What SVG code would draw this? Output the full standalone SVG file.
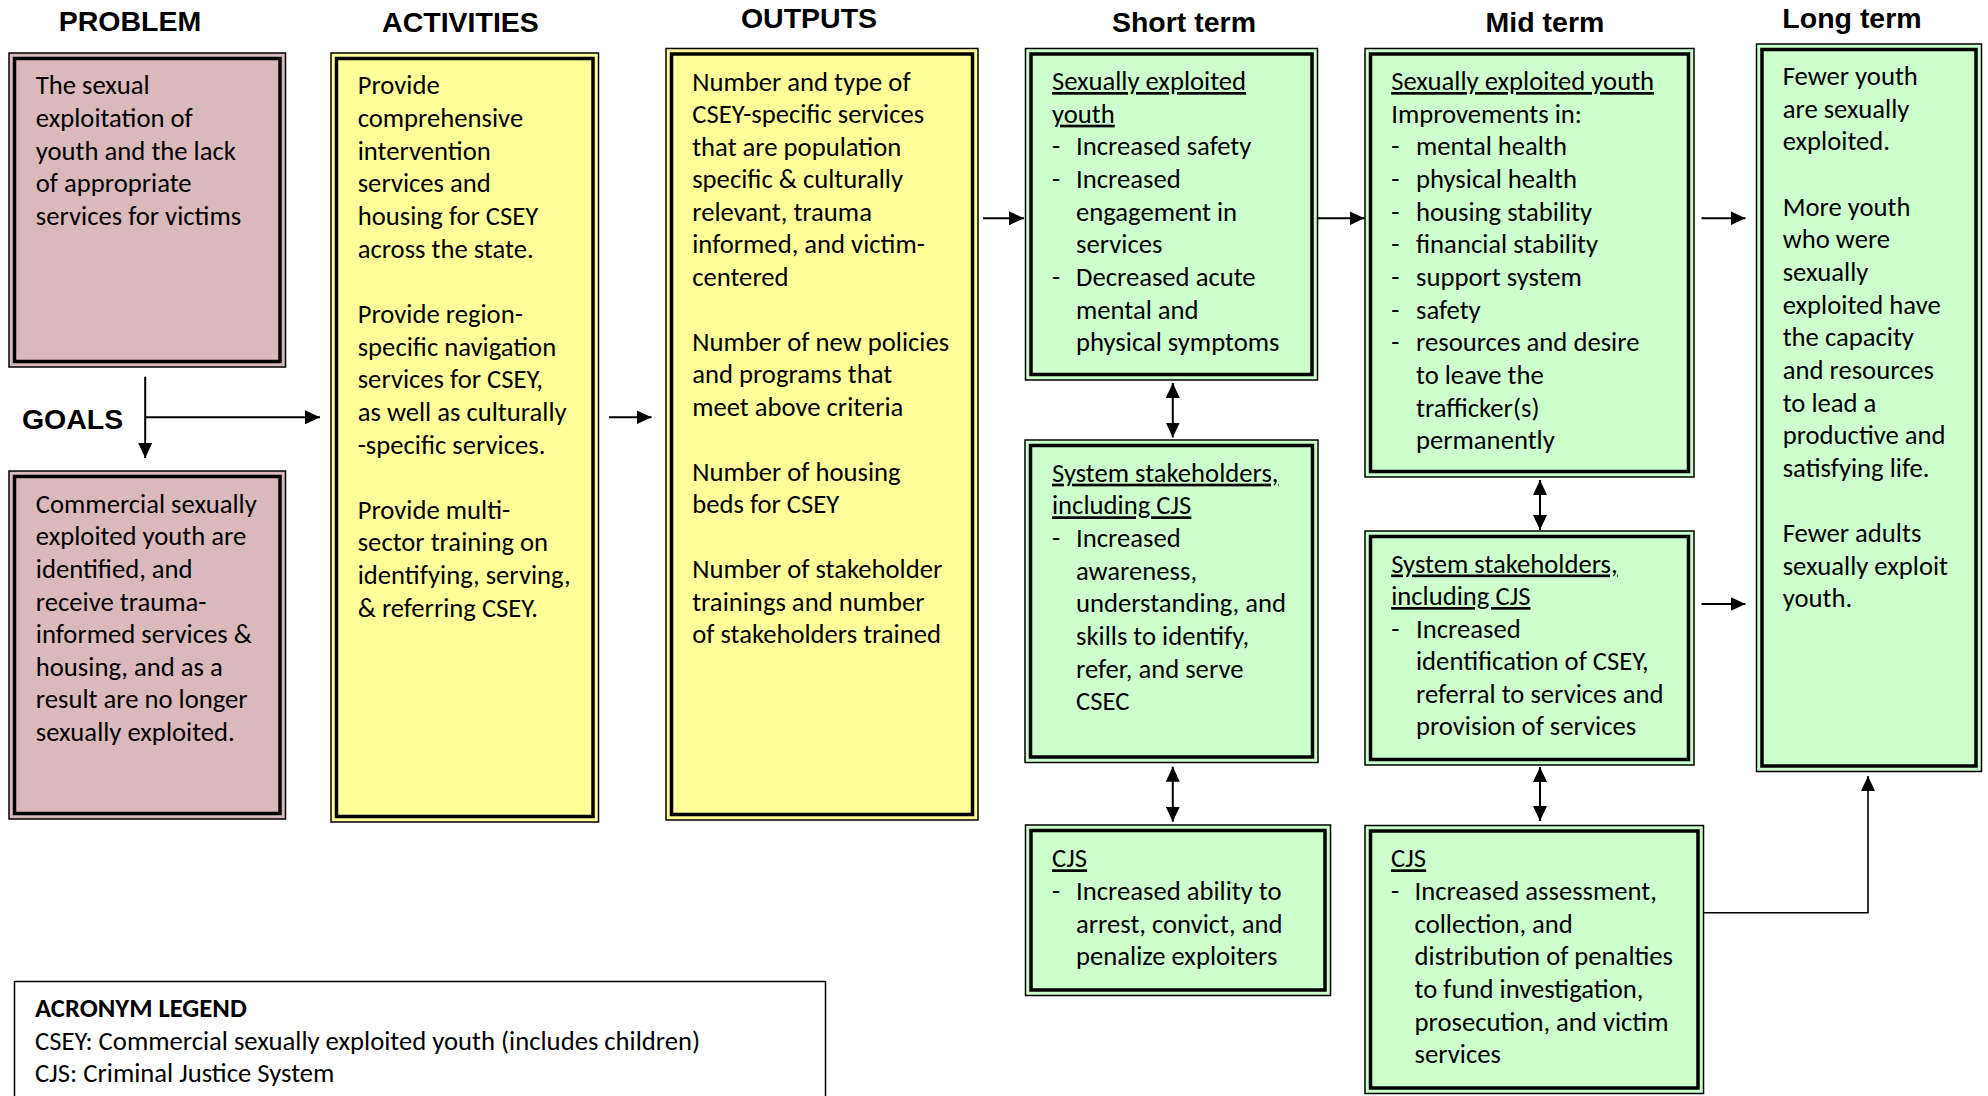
<svg xmlns="http://www.w3.org/2000/svg" width="1988" height="1096" viewBox="0 0 1988 1096">
<style>
.t{font-family:Carlito,Calibri,"Liberation Sans Narrow","Open Sans",sans-serif;font-size:26.67px;fill:#000}
.b{font-weight:bold}
.u{text-decoration:underline}
.h{font-family:"Liberation Sans",Arial,sans-serif;font-weight:bold;font-size:28.5px;fill:#000;text-anchor:middle}
.o{stroke:#000;stroke-width:1.5}
.i{fill:none;stroke:#000;stroke-width:3.5}
.pink{fill:#D9B9BC}
.yel{fill:#FFFF99}
.grn{fill:#CCFFCC}
.c{fill:none;stroke:#000;stroke-width:2}
.c1{fill:none;stroke:#000;stroke-width:1.6}
</style>
<defs>
<marker id="ah" viewBox="0 0 15 14" refX="15" refY="7" markerWidth="15" markerHeight="14" markerUnits="userSpaceOnUse" orient="auto-start-reverse"><path d="M0,0 L15,7 L0,14 z" fill="#000"/></marker>
</defs>
<rect width="1988" height="1096" fill="#fff"/>

<g id="headers">
<text class="h" x="130" y="31">PROBLEM</text>
<text class="h" x="460.5" y="31.7">ACTIVITIES</text>
<text class="h" x="809" y="28.3">OUTPUTS</text>
<text class="h" x="1184" y="31.7">Short term</text>
<text class="h" x="1545" y="31.7">Mid term</text>
<text class="h" x="1852" y="28.3">Long term</text>
<text class="h" x="72.6" y="429.3">GOALS</text>
</g>

<g id="connectors">
<path class="c" d="M145.2,376.7 V458" marker-end="url(#ah)"/>
<path class="c" d="M145.2,417.3 H320" marker-end="url(#ah)"/>
<path class="c" d="M609,417.3 H651.5" marker-end="url(#ah)"/>
<path class="c" d="M983,218.3 H1024" marker-end="url(#ah)"/>
<path class="c" d="M1318,218.3 H1364.5" marker-end="url(#ah)"/>
<path class="c" d="M1701.5,218.3 H1745.5" marker-end="url(#ah)"/>
<path class="c" d="M1701.5,604 H1745.5" marker-end="url(#ah)"/>
<path class="c" d="M1172.8,383 V437.5" marker-start="url(#ah)" marker-end="url(#ah)"/>
<path class="c" d="M1172.8,766.7 V821.7" marker-start="url(#ah)" marker-end="url(#ah)"/>
<path class="c" d="M1540,480 V530" marker-start="url(#ah)" marker-end="url(#ah)"/>
<path class="c" d="M1540,767 V821" marker-start="url(#ah)" marker-end="url(#ah)"/>
<path class="c1" d="M1703.7,912.7 H1868 V776" marker-end="url(#ah)"/>
</g>

<g id="problem">
<rect class="o pink" x="9" y="53" width="276.5" height="314"/>
<rect class="i" x="14.5" y="58.5" width="265.5" height="303"/>
<text class="t" x="35.8" y="94.3"><tspan x="35.8" y="94.3">The sexual</tspan><tspan x="35.8" y="127">exploitation of</tspan><tspan x="35.8" y="159.6">youth and the lack</tspan><tspan x="35.8" y="192.3">of appropriate</tspan><tspan x="35.8" y="224.9">services for victims</tspan></text>
</g>

<g id="goals">
<rect class="o pink" x="9" y="471" width="276.5" height="348"/>
<rect class="i" x="14.5" y="476.5" width="265.5" height="337"/>
<text class="t"><tspan x="35.8" y="512.7">Commercial sexually</tspan><tspan x="35.8" y="545.3">exploited youth are</tspan><tspan x="35.8" y="577.9">identified, and</tspan><tspan x="35.8" y="610.5">receive trauma-</tspan><tspan x="35.8" y="643.1">informed services &amp;</tspan><tspan x="35.8" y="675.7">housing, and as a</tspan><tspan x="35.8" y="708.3">result are no longer</tspan><tspan x="35.8" y="740.9">sexually exploited.</tspan></text>
</g>

<g id="activities">
<rect class="o yel" x="331" y="53" width="267.5" height="769"/>
<rect class="i" x="336.5" y="58.5" width="256.5" height="758"/>
<text class="t"><tspan x="357.7" y="94.3">Provide</tspan><tspan x="357.7" y="127">comprehensive</tspan><tspan x="357.7" y="159.6">intervention</tspan><tspan x="357.7" y="192.3">services and</tspan><tspan x="357.7" y="224.9">housing for CSEY</tspan><tspan x="357.7" y="257.6">across the state.</tspan><tspan x="357.7" y="322.9">Provide region-</tspan><tspan x="357.7" y="355.5">specific navigation</tspan><tspan x="357.7" y="388.2">services for CSEY,</tspan><tspan x="357.7" y="420.8">as well as culturally</tspan><tspan x="357.7" y="453.5">-specific services.</tspan><tspan x="357.7" y="518.8">Provide multi-</tspan><tspan x="357.7" y="551.4">sector training on</tspan><tspan x="357.7" y="584.1">identifying, serving,</tspan><tspan x="357.7" y="616.7">&amp; referring CSEY.</tspan></text>
</g>

<g id="outputs">
<rect class="o yel" x="666" y="48.5" width="312" height="771.5"/>
<rect class="i" x="671.5" y="54" width="301" height="760.5"/>
<text class="t"><tspan x="692.2" y="90.7">Number and type of</tspan><tspan x="692.2" y="123.2">CSEY-specific services</tspan><tspan x="692.2" y="155.7">that are population</tspan><tspan x="692.2" y="188.2">specific &amp; culturally</tspan><tspan x="692.2" y="220.7">relevant, trauma</tspan><tspan x="692.2" y="253.2">informed, and victim-</tspan><tspan x="692.2" y="285.7">centered</tspan><tspan x="692.2" y="350.9">Number of new policies</tspan><tspan x="692.2" y="383.4">and programs that</tspan><tspan x="692.2" y="415.9">meet above criteria</tspan><tspan x="692.2" y="480.9">Number of housing</tspan><tspan x="692.2" y="513.4">beds for CSEY</tspan><tspan x="692.2" y="578.3">Number of stakeholder</tspan><tspan x="692.2" y="610.8">trainings and number</tspan><tspan x="692.2" y="643.3">of stakeholders trained</tspan></text>
</g>

<g id="short-youth">
<rect class="o grn" x="1025.5" y="48.5" width="292" height="331.5"/>
<rect class="i" x="1031" y="54" width="281" height="320.5"/>
<text class="t"><tspan class="u" x="1052" y="90">Sexually exploited</tspan><tspan class="u" x="1052" y="122.7">youth</tspan><tspan x="1052" y="155.3">-</tspan><tspan x="1076" y="155.3">Increased safety</tspan><tspan x="1052" y="188">-</tspan><tspan x="1076" y="188">Increased</tspan><tspan x="1076" y="220.6">engagement in</tspan><tspan x="1076" y="253.3">services</tspan><tspan x="1052" y="285.9">-</tspan><tspan x="1076" y="285.9">Decreased acute</tspan><tspan x="1076" y="318.6">mental and</tspan><tspan x="1076" y="351.2">physical symptoms</tspan></text>
</g>

<g id="short-stakeholders">
<rect class="o grn" x="1025" y="440" width="293" height="322.5"/>
<rect class="i" x="1030.5" y="445.5" width="282" height="311.5"/>
<text class="t"><tspan class="u" x="1052" y="481.7">System stakeholders,</tspan><tspan class="u" x="1052" y="514.3">including CJS</tspan><tspan x="1052" y="547">-</tspan><tspan x="1076" y="547">Increased</tspan><tspan x="1076" y="579.6">awareness,</tspan><tspan x="1076" y="612.3">understanding, and</tspan><tspan x="1076" y="644.9">skills to identify,</tspan><tspan x="1076" y="677.6">refer, and serve</tspan><tspan x="1076" y="710.2">CSEC</tspan></text>
</g>

<g id="short-cjs">
<rect class="o grn" x="1025.5" y="825" width="305" height="170.5"/>
<rect class="i" x="1031" y="830.5" width="294" height="159.5"/>
<text class="t"><tspan class="u" x="1052" y="867.3">CJS</tspan><tspan x="1052" y="900">-</tspan><tspan x="1076" y="900">Increased ability to</tspan><tspan x="1076" y="932.6">arrest, convict, and</tspan><tspan x="1076" y="965.3">penalize exploiters</tspan></text>
</g>

<g id="mid-youth">
<rect class="o grn" x="1365" y="48.5" width="329" height="428.5"/>
<rect class="i" x="1370.5" y="54" width="318" height="417.5"/>
<text class="t"><tspan class="u" x="1391.2" y="90">Sexually exploited youth</tspan><tspan x="1391.2" y="122.7">Improvements in:</tspan><tspan x="1391.2" y="155.3">-</tspan><tspan x="1416" y="155.3">mental health</tspan><tspan x="1391.2" y="188">-</tspan><tspan x="1416" y="188">physical health</tspan><tspan x="1391.2" y="220.6">-</tspan><tspan x="1416" y="220.6">housing stability</tspan><tspan x="1391.2" y="253.3">-</tspan><tspan x="1416" y="253.3">financial stability</tspan><tspan x="1391.2" y="285.9">-</tspan><tspan x="1416" y="285.9">support system</tspan><tspan x="1391.2" y="318.6">-</tspan><tspan x="1416" y="318.6">safety</tspan><tspan x="1391.2" y="351.2">-</tspan><tspan x="1416" y="351.2">resources and desire</tspan><tspan x="1416" y="383.9">to leave the</tspan><tspan x="1416" y="416.5">trafficker(s)</tspan><tspan x="1416" y="449.2">permanently</tspan></text>
</g>

<g id="mid-stakeholders">
<rect class="o grn" x="1365" y="531" width="329" height="234"/>
<rect class="i" x="1370.5" y="536.5" width="318" height="223"/>
<text class="t"><tspan class="u" x="1391.2" y="572.5">System stakeholders,</tspan><tspan class="u" x="1391.2" y="605">including CJS</tspan><tspan x="1391.2" y="637.5">-</tspan><tspan x="1416" y="637.5">Increased</tspan><tspan x="1416" y="670">identification of CSEY,</tspan><tspan x="1416" y="702.5">referral to services and</tspan><tspan x="1416" y="735">provision of services</tspan></text>
</g>

<g id="mid-cjs">
<rect class="o grn" x="1365" y="825.5" width="338.5" height="268"/>
<rect class="i" x="1370.5" y="831" width="327.5" height="257"/>
<text class="t"><tspan class="u" x="1391" y="867.3">CJS</tspan><tspan x="1391" y="900">-</tspan><tspan x="1414.6" y="900">Increased assessment,</tspan><tspan x="1414.6" y="932.6">collection, and</tspan><tspan x="1414.6" y="965.3">distribution of penalties</tspan><tspan x="1414.6" y="997.9">to fund investigation,</tspan><tspan x="1414.6" y="1030.6">prosecution, and victim</tspan><tspan x="1414.6" y="1063.2">services</tspan></text>
</g>

<g id="long-term">
<rect class="o grn" x="1756.5" y="44" width="225" height="727.5"/>
<rect class="i" x="1762" y="49.5" width="214" height="716.5"/>
<text class="t"><tspan x="1782.7" y="85">Fewer youth</tspan><tspan x="1782.7" y="117.7">are sexually</tspan><tspan x="1782.7" y="150.3">exploited.</tspan><tspan x="1782.7" y="215.6">More youth</tspan><tspan x="1782.7" y="248.3">who were</tspan><tspan x="1782.7" y="280.9">sexually</tspan><tspan x="1782.7" y="313.6">exploited have</tspan><tspan x="1782.7" y="346.2">the capacity</tspan><tspan x="1782.7" y="378.9">and resources</tspan><tspan x="1782.7" y="411.5">to lead a</tspan><tspan x="1782.7" y="444.2">productive and</tspan><tspan x="1782.7" y="476.8">satisfying life.</tspan><tspan x="1782.7" y="542.1">Fewer adults</tspan><tspan x="1782.7" y="574.8">sexually exploit</tspan><tspan x="1782.7" y="607.4">youth.</tspan></text>
</g>

<g id="legend">
<rect x="14.5" y="981.5" width="811" height="130" fill="#fff" stroke="#000" stroke-width="1.5"/>
<text class="t"><tspan class="b" x="35" y="1017.3">ACRONYM LEGEND</tspan><tspan x="35" y="1049.5">CSEY: Commercial sexually exploited youth (includes children)</tspan><tspan x="35" y="1081.7">CJS: Criminal Justice System</tspan></text>
</g>
</svg>
